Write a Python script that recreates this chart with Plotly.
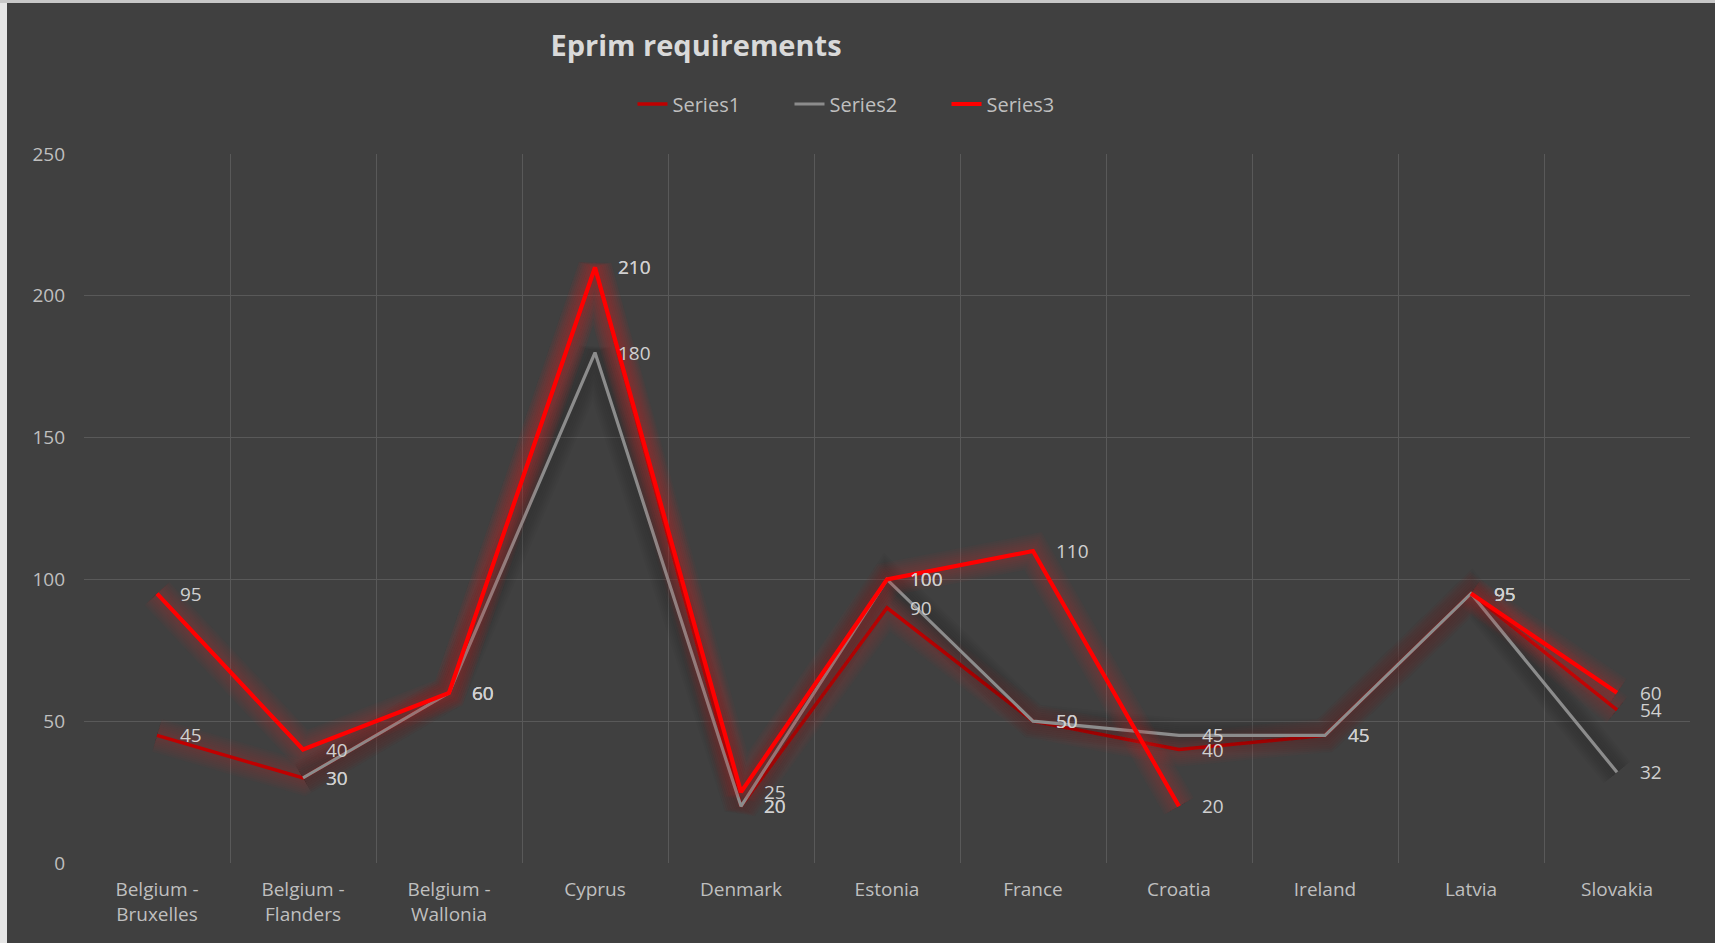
import plotly.graph_objects as go

# ---- data -------------------------------------------------------------
categories = [
    "Belgium -<br>Bruxelles", "Belgium -<br>Flanders", "Belgium -<br>Wallonia",
    "Cyprus", "Denmark", "Estonia", "France", "Croatia", "Ireland", "Latvia", "Slovakia",
]
series1 = [45, 30, 60, 210, 20, 90, 50, 40, 45, 95, 54]
series2 = [None, 30, 60, 180, 20, 100, 50, 45, 45, 95, 32]
series3 = [95, 40, 60, 210, 25, 100, 110, 20, None, 95, 60]
series_names = ["Series1", "Series2", "Series3"]
y_ticks = [0, 50, 100, 150, 200, 250]

# ---- styling ------------------------------------------------------------
W, H = 1715, 943
PLOT_L, PLOT_R, PLOT_T, PLOT_B = 84, 1690, 154, 863
BG = "#404040"
GRID = "#595959"
TEXT = "#BFBFBF"
LABEL = "#D0D0D0"
FONT = "'Open Sans', Lato, sans-serif"

line_colors = ["#C00000", "#8C8C8C", "#FF0000"]
line_widths = [3.5, 3.2, 4.2]
glow_colors = [
    "rgba(190,35,35,0.042)",
    "rgba(30,30,30,0.035)",
    "rgba(220,35,35,0.042)",
]
glow_widths = [34, 30, 26, 22, 18, 14, 10]

fig = go.Figure()

all_series = [series1, series2, series3]
for name, values, col, lw, gcol in zip(series_names, all_series, line_colors,
                                       line_widths, glow_colors):
    # soft glow underneath each line
    for gw in glow_widths:
        fig.add_trace(go.Scatter(
            x=categories, y=values, mode="lines",
            line=dict(color=gcol, width=gw),
            showlegend=False, hoverinfo="skip",
        ))
    fig.add_trace(go.Scatter(
        x=categories, y=values, mode="lines", name=name,
        line=dict(color=col, width=lw),
    ))

# value labels to the right of each point
annotations = []
for values in all_series:
    for cat, v in zip(categories, values):
        if v is None:
            continue
        annotations.append(dict(
            x=cat, y=v, xref="x", yref="y", text=str(v),
            showarrow=False, xanchor="left", yanchor="middle", xshift=21,
            font=dict(family=FONT, size=19, color=LABEL),
        ))

pw = PLOT_R - PLOT_L
ph = PLOT_B - PLOT_T

def px_x(px):
    return (px - PLOT_L) / pw

def px_y(py):
    return (PLOT_B - py) / ph

# thin light frame along the left and top edges of the chart
shapes = [
    dict(type="rect", xref="paper", yref="paper", layer="above",
         x0=px_x(0), x1=px_x(7), y0=px_y(H), y1=px_y(0),
         fillcolor="#E6E6E6", line=dict(width=0)),
    dict(type="rect", xref="paper", yref="paper", layer="above",
         x0=px_x(0), x1=px_x(W), y0=px_y(3), y1=px_y(0),
         fillcolor="#C8C8C8", line=dict(width=0)),
]

fig.update_layout(
    width=W, height=H,
    paper_bgcolor=BG, plot_bgcolor=BG,
    margin=dict(l=PLOT_L, r=W - PLOT_R, t=PLOT_T, b=H - PLOT_B, autoexpand=False),
    title=dict(
        text="<b>Eprim requirements</b>",
        x=696 / W, xref="container", xanchor="center",
        y=1 - 46 / H, yref="container", yanchor="middle",
        font=dict(family=FONT, size=29, color="#D9D9D9"),
    ),
    legend=dict(
        orientation="h", x=px_x(868), xanchor="center",
        y=px_y(104), yanchor="middle",
        font=dict(family=FONT, size=20, color=TEXT),
        bgcolor="rgba(0,0,0,0)",
        entrywidth=112, entrywidthmode="pixels",
    ),
    showlegend=True,
    xaxis=dict(
        type="category", range=[-0.5, len(categories) - 0.5],
        tickson="boundaries", ticks="",
        showgrid=True, gridcolor=GRID, gridwidth=1,
        showline=False, zeroline=False,
        tickfont=dict(family=FONT, size=19, color=TEXT),
        ticklabelstandoff=13,
    ),
    yaxis=dict(
        range=[0, 250], tickvals=y_ticks, ticks="",
        showgrid=True, gridcolor=GRID, gridwidth=1,
        showline=False, zeroline=False,
        tickfont=dict(family=FONT, size=19, color=TEXT),
        ticklabelstandoff=18,
    ),
    annotations=annotations,
    shapes=shapes,
    hovermode=False,
)

fig.write_html("out.html")
